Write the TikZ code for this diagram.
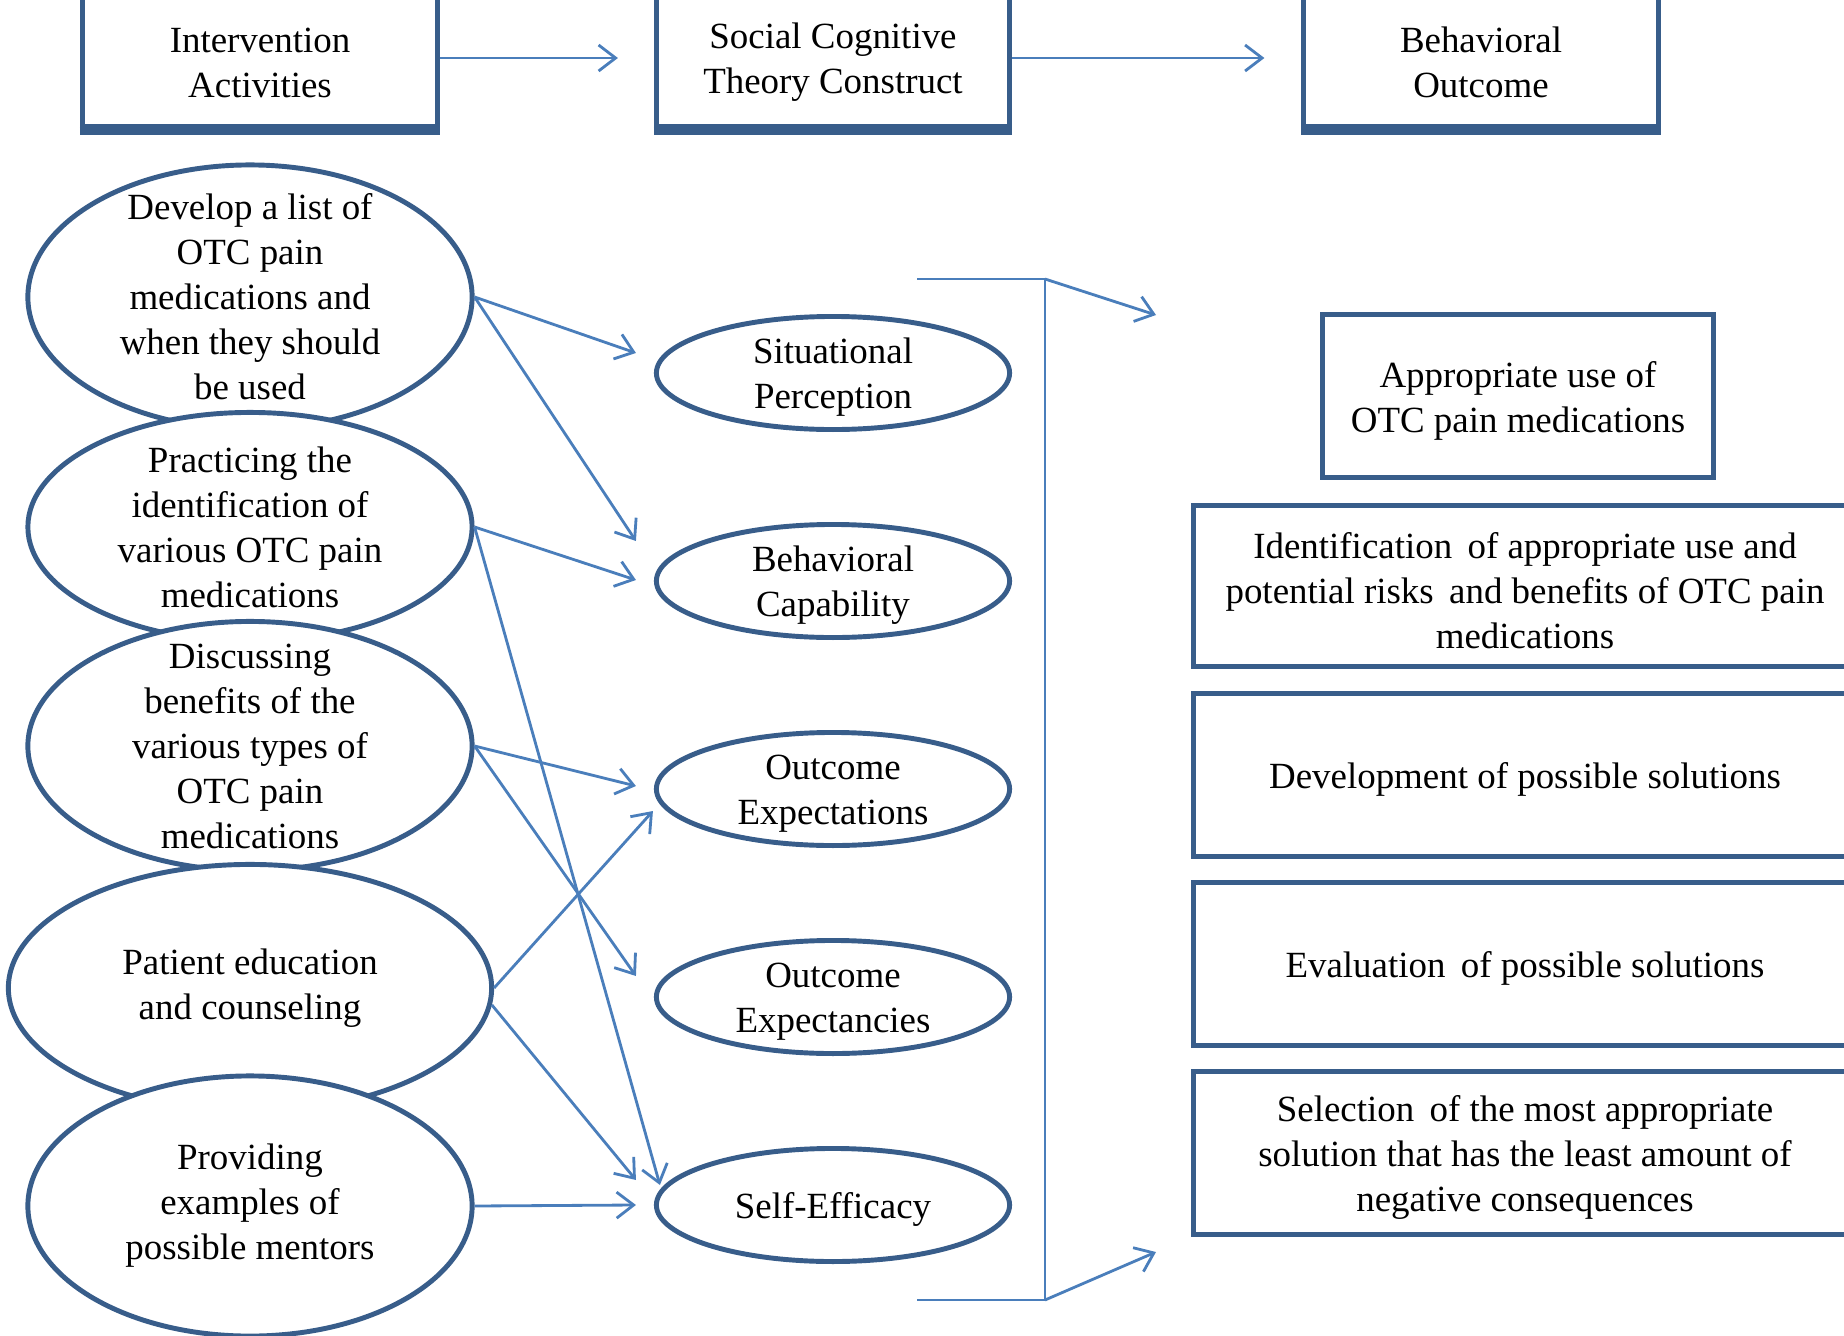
\documentclass[tikz,border=0pt]{standalone}
\usepackage{fontspec}
\setmainfont{Liberation Serif}
\usetikzlibrary{calc,arrows.meta,shapes.geometric}
\definecolor{rimblue}{HTML}{385D8A}
\definecolor{linkblue}{HTML}{4A7EBB}
\tikzset{
	bodytext/.style={align=center, inner sep=0pt, font=\fontsize{10.5}{12.8}\selectfont},
	lowtext/.style={bodytext, yshift=-0.45mm},
	oval/.style={ellipse, draw=rimblue, line width=1.4pt, fill=white, inner sep=0pt},
	panel/.style={rectangle, draw=rimblue, line width=1.4pt, fill=white, inner sep=0pt},
	link/.style={draw=linkblue, line width=0.8pt, -{Straight Barb[length=1.7mm, width=2.6mm]}},
	rail/.style={draw=linkblue, line width=0.8pt}
}

\begin{document}
\begin{tikzpicture}[x=0.01cm, y=-0.01cm]
			%%%%% START %%%%%
			\useasboundingbox (0,0) rectangle (1844,1336);
			
			% header row
			\node[panel, minimum width=3.55cm, minimum height=1.37cm, label={[lowtext]center:{Intervention\\Activities}}] (acts) at (260,58) {};
			\node[panel, minimum width=3.53cm, minimum height=1.37cm, label={[lowtext]center:{Social Cognitive\\Theory Construct}}] (scct) at (833,58) {};
			\node[panel, minimum width=3.54cm, minimum height=1.37cm, label={[lowtext]center:{Behavioral\\Outcome}}] (outc) at (1481,58) {};
			\foreach \n in {acts,scct,outc}
				\draw[rimblue, line width=2.2pt] ($(\n.south west)+(0,2)$) -- ($(\n.south east)+(0,2)$);
			
			\draw[link, shorten >=0.36cm] (acts.east) -- (scct.west);
			\draw[link, shorten >=0.37cm] (scct.east) -- (outc.west);
			
			% intervention activities
			\node[oval, minimum width=4.44cm, minimum height=2.64cm, label={[bodytext]center:{Develop a list of\\OTC pain\\medications and\\when they should\\be used}}] (dev) at (250,297) {};
			\node[oval, minimum width=4.44cm, minimum height=2.29cm, label={[bodytext]center:{Practicing the\\identification of\\various OTC pain\\medications}}] (prac) at (250,527) {};
			\node[oval, minimum width=4.44cm, minimum height=2.49cm, label={[bodytext]center:{Discussing\\benefits of the\\various types of\\OTC pain\\medications}}] (disc) at (250,746) {};
			\node[oval, minimum width=4.83cm, minimum height=2.47cm, label={[bodytext]center:{Patient education\\and counseling}}] (pat) at (250,988) {};
			\node[oval, minimum width=4.44cm, minimum height=2.60cm, label={[bodytext]center:{Providing\\examples of\\possible mentors}}] (prov) at (250,1206) {};
			
			% constructs
			\node[oval, minimum width=3.53cm, minimum height=1.13cm, label={[lowtext]center:{Situational\\Perception}}] (sit) at (833,373) {};
			\node[oval, minimum width=3.53cm, minimum height=1.13cm, label={[lowtext]center:{Behavioral\\Capability}}] (cap) at (833,581) {};
			\node[oval, minimum width=3.53cm, minimum height=1.13cm, label={[lowtext]center:{Outcome\\Expectations}}] (expn) at (833,789) {};
			\node[oval, minimum width=3.53cm, minimum height=1.13cm, label={[lowtext]center:{Outcome\\Expectancies}}] (expc) at (833,997) {};
			\node[oval, minimum width=3.53cm, minimum height=1.13cm, label={[lowtext]center:{Self-Efficacy}}] (eff) at (833,1205) {};
			
			% outcomes
			\node[panel, minimum width=3.90cm, minimum height=1.62cm, label={[lowtext]center:{Appropriate use of\\OTC pain medications}}] (app) at (1518,396) {};
			\node[panel, minimum width=6.62cm, minimum height=1.61cm, label={[lowtext]center:{Identification\, of appropriate use and\\potential risks\, and benefits of OTC pain\\medications}}] (ident) at (1525,586) {};
			\node[panel, minimum width=6.62cm, minimum height=1.62cm, label={[lowtext]center:{Development of possible solutions}}] (devsol) at (1525,775) {};
			\node[panel, minimum width=6.62cm, minimum height=1.62cm, label={[lowtext]center:{Evaluation\, of possible solutions}}] (evalsol) at (1525,964) {};
			\node[panel, minimum width=6.62cm, minimum height=1.63cm, label={[lowtext]center:{Selection\, of the most appropriate\\solution that has the least amount of\\negative consequences}}] (selsol) at (1525,1153) {};
			
			% activity -> construct
			\draw[link] (dev.east) -- ($(sit.west)+(-18,-20)$);
			\draw[link] (dev.east) -- ($(cap.west)+(-18,-40)$);
			\draw[link] (prac.east) -- ($(cap.west)+(-18,-1)$);
			\draw[link] (prac.east) -- ($(eff.west)+(6,-20)$);
			\draw[link] (disc.east) -- ($(expn.west)+(-18,-3)$);
			\draw[link] (disc.east) -- ($(expc.west)+(-18,-21)$);
			\draw[link] (pat.east) -- ($(expn.west)+(-1,22)$);
			\draw[link] (pat.-4) -- ($(eff.west)+(-18,-25)$);
			\draw[link] (prov.east) -- ($(eff.west)+(-18,0)$);
			
			% bracket
			\coordinate (railtl) at (917,279);
			\coordinate (railtr) at (1045,279);
			\coordinate (railbr) at (1045,1300);
			\coordinate (railbl) at (917,1300);
			\coordinate (tiptop) at (1156,315);
			\coordinate (tipbot) at (1156,1252);
			\draw[rail] (railtl) -- (railtr) -- (railbr) -- (railbl);
			\draw[link] (railtr) -- (tiptop);
			\draw[link] (railbr) -- (tipbot);
			
			%%%%% END %%%%%
		\end{tikzpicture}
\end{document}
